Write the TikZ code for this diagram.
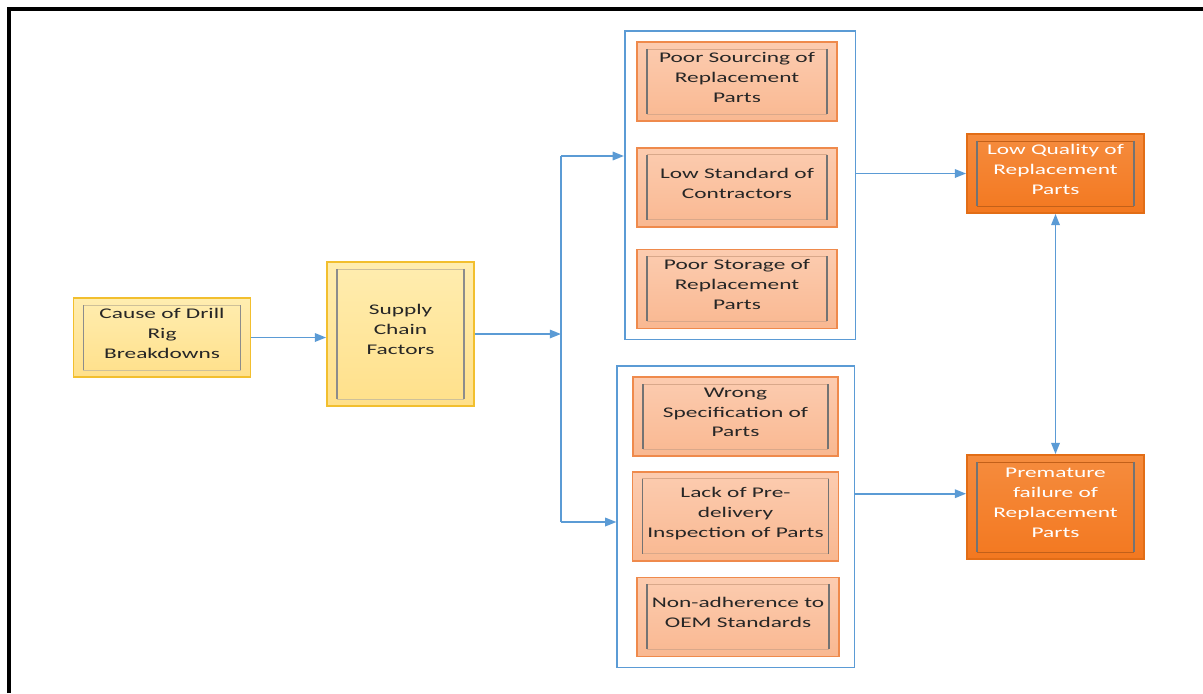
\documentclass[tikz,border=0pt]{standalone}
\usepackage{fontspec}
\setmainfont{Carlito}[FakeStretch=1.58]
\usetikzlibrary{positioning,fit,arrows.meta,calc}

\definecolor{linkblue}{HTML}{5B9BD5}
\definecolor{goldfill}{HTML}{FFE08A}
\definecolor{goldtop}{HTML}{FFEDB0}
\definecolor{goldline}{HTML}{F2BF2E}
\definecolor{peachfill}{HTML}{F9B891}
\definecolor{peachtop}{HTML}{FCCCB0}
\definecolor{peachline}{HTML}{EF8A4C}
\definecolor{burnt}{HTML}{F37820}
\definecolor{burnttop}{HTML}{F58C3E}
\definecolor{burntline}{HTML}{E26D16}

\begin{document}
\begin{tikzpicture}[
    x=0.025cm, y=-0.025cm,
    font=\fontsize{10.5}{14.2}\selectfont,
    block/.style={
        draw,
        line width=1.2pt,
        minimum width=4.425cm,
        minimum height=1.975cm,
        inner sep=1pt,
        align=center,
        text=black!85,
        execute at end node={\rule[-6pt]{0pt}{6pt}}
    },
    bevel/.style 2 args={path picture={
        \path ([xshift=0.25cm,yshift=-0.175cm]path picture bounding box.north west) coordinate (in1)
              ([xshift=-0.25cm,yshift=0.175cm]path picture bounding box.south east) coordinate (in2);
        \draw[#1, line width=0.6pt] (in1) -- (in1 -| in2) (in1 |- in2) -- (in2);
        \draw[#2, line width=0.9pt] (in1) -- (in1 |- in2) (in1 -| in2) -- (in2);
    }},
    cause/.style={block, draw=goldline, top color=goldtop, bottom color=goldfill,
        bevel={goldline!60!black!45}{black!45}},
    factor/.style={block, draw=peachline, top color=peachtop, bottom color=peachfill,
        minimum width=5cm, bevel={peachline!80!black!60}{black!55}},
    effect/.style={block, draw=burntline, top color=burnttop, bottom color=burnt,
        text=white, bevel={burnt!80!black}{black!55}},
    group/.style={draw=linkblue, line width=1.1pt, inner xsep=0.36cm, inner ysep=0.25cm},
    link/.style={linkblue, line width=1.3pt},
    arrow/.style={link, -{Triangle[length=8pt,width=6pt]}},
    biarrow/.style={link, {Triangle[length=8pt,width=6pt]}-{Triangle[length=8pt,width=6pt]}}
]

\useasboundingbox (0,0) rectangle (1203,693);
\draw[line width=0.1cm] (9,693) -- (9,9) -- (1203,9);

% causes
\node[cause] (cause) at (162,337.5) {Cause of Drill\\Rig\\Breakdowns};
\node[cause, minimum width=3.675cm, minimum height=3.6cm] (supply) at (400.5,334) {Supply\\Chain\\Factors};

% first group of factors
\node[factor] (sourcing) at (737,81.5) {Poor Sourcing of\\Replacement\\Parts};
\node[factor, below=0.625cm of sourcing] (contractors) {Low Standard of\\Contractors};
\node[factor, below=0.525cm of contractors] (storage) {Poor Storage of\\Replacement\\Parts};

% second group of factors
\node[factor, minimum width=5.125cm] (spec) at (735.5,416.5) {Wrong\\Specification of\\Parts};
\node[factor, minimum width=5.15cm, minimum height=2.225cm, below=0.35cm of spec] (inspection)
    {Lack of Pre-\\delivery\\Inspection of Parts};
\node[factor, minimum width=5.05cm, below=0.375cm of inspection, xshift=0.0625cm] (oem)
    {Non-adherence to\\OEM Standards};

% effects
\node[effect] (quality) at (1055.5,173.5) {Low Quality of\\Replacement\\Parts};
\node[effect, minimum height=2.6cm] (failure) at (1055.5,507) {Premature\\failure of\\Replacement\\Parts};

% frames round the groups
\node[group, fit=(sourcing)(storage), xshift=0.075cm] (chainA) {};
\node[group, fit=(spec)(inspection)(oem)] (chainB) {};

% connectors
\coordinate (splitA) at (561,156);
\coordinate (splitB) at (561,522);

\draw[arrow] (cause.east) -- (cause.east -| supply.west);
\draw[arrow] (supply.east) -- (supply.east -| splitA);
\draw[link] (splitA) -- (splitB);
\draw[arrow] (splitA) -- (splitA -| chainA.west);
\draw[arrow] (splitB) -- (splitB -| chainB.west);
\draw[arrow] (quality.west -| chainA.east) -- (quality.west);
\draw[arrow] ([yshift=0.575cm]chainB.east) -- ([yshift=0.575cm]chainB.east -| failure.west);
\draw[biarrow] (quality) -- (failure);

\end{tikzpicture}
\end{document}
